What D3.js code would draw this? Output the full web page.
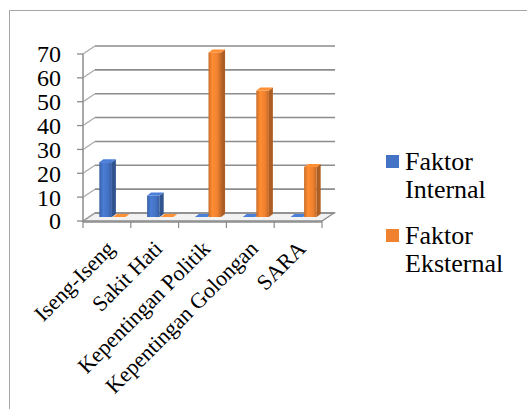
<!DOCTYPE html>
<html>
<head>
<meta charset="utf-8">
<script src="https://cdn.jsdelivr.net/npm/d3@7"></script>
<style>
  body { margin: 0; background: #fff; }
</style>
</head>
<body>
<div id="chart"></div>
<script>
// data
const categories = ["Iseng-Iseng", "Sakit Hati", "Kepentingan Politik", "Kepentingan Golongan", "SARA"];
const seriesNames = ["Faktor Internal", "Faktor Eksternal"];
const internalValues = [23, 9, 0, 0, 0];
const externalValues = [0, 0, 69, 53, 21];
const yTicks = [0, 10, 20, 30, 40, 50, 60, 70];
const colors = ["#4472C4", "#F0812F"];

const W = 527, H = 409;
const FONT = "'Liberation Serif', 'Times New Roman', serif";
const x0 = 83, x1 = 322;     // front edge of the plot
const dx = 12, dy = -8;      // depth of the back wall

const svg = d3.select("#chart").append("svg")
    .attr("width", W)
    .attr("height", H)
    .style("font-family", FONT);

// chart frame
svg.append("rect")
    .attr("x", 9.5).attr("y", 10.5)
    .attr("width", 700).attr("height", 600)
    .attr("fill", "none")
    .attr("stroke", "#a6a6a6");

const y = d3.scaleLinear().domain([0, 70]).range([221, 54]);
const x = d3.scaleBand().domain(categories).range([x0, x1]).paddingInner(0).paddingOuter(0);
const xs = d3.scaleBand().domain(seriesNames).range([0, x.bandwidth()]).paddingInner(0).paddingOuter(0.76);

// gradients
const defs = svg.append("defs");
colors.forEach((c, i) => {
    const g = defs.append("linearGradient").attr("id", "grad" + i)
        .attr("x1", "0%").attr("x2", "100%");
    const base = d3.color(c);
    g.append("stop").attr("offset", "0%").attr("stop-color", base.darker(0.5));
    g.append("stop").attr("offset", "30%").attr("stop-color", base.brighter(0.25));
    g.append("stop").attr("offset", "70%").attr("stop-color", base);
    g.append("stop").attr("offset", "100%").attr("stop-color", base.darker(0.6));
});

// floor
const y0 = y(0);
svg.append("path")
    .attr("d", `M${x0},${y0}L${x1},${y0}L${x1 + dx},${y0 + dy}L${x0 + dx},${y0 + dy}Z`)
    .attr("fill", "#f2f2f2")
    .attr("stroke", "#8c8c8c")
    .attr("stroke-width", 1.3);

// back wall grid + side wall lines
yTicks.forEach(v => {
    const yy = y(v);
    svg.append("line")
        .attr("x1", x0 + dx).attr("x2", x1 + dx + 1)
        .attr("y1", yy + dy).attr("y2", yy + dy)
        .attr("stroke", "#8c8c8c").attr("stroke-width", 1.6);
    svg.append("line")
        .attr("x1", x0).attr("x2", x0 + dx)
        .attr("y1", yy).attr("y2", yy + dy)
        .attr("stroke", "#a6a6a6").attr("stroke-width", 1.2);
});

// left (value) axis
svg.append("line")
    .attr("x1", x0).attr("x2", x0)
    .attr("y1", y(70)).attr("y2", y0)
    .attr("stroke", "#8c8c8c").attr("stroke-width", 1.5);
yTicks.forEach(v => {
    svg.append("line")
        .attr("x1", x0 - 6).attr("x2", x0)
        .attr("y1", y(v)).attr("y2", y(v))
        .attr("stroke", "#8c8c8c").attr("stroke-width", 1.3);
    svg.append("text")
        .attr("x", 61).attr("y", y(v))
        .attr("dy", "0.35em")
        .attr("text-anchor", "end")
        .attr("font-family", FONT)
        .attr("font-size", 24)
        .text(v);
});

// category ticks along the front of the floor
const bounds = categories.map(c => x(c)).concat([x1]);
bounds.forEach(b => {
    svg.append("line")
        .attr("x1", b).attr("x2", b)
        .attr("y1", y0).attr("y2", y0 + 7)
        .attr("stroke", "#8c8c8c").attr("stroke-width", 1.2);
});
svg.append("line")
    .attr("x1", x0).attr("x2", x1)
    .attr("y1", y0 + 1).attr("y2", y0 + 1)
    .attr("stroke", "#8c8c8c").attr("stroke-width", 1.5);

// bars, drawn at mid depth
const mx = dx / 2, my = dy / 2;
const bx = 4, by = -3;   // bar depth
const series = [internalValues, externalValues];
series.forEach((vals, si) => {
    const g = svg.append("g");
    categories.forEach((c, ci) => {
        const v = vals[ci];
        const left = x(c) + xs(seriesNames[si]) + mx;
        const w = xs.bandwidth() - 1;
        const top = y(v) + my;
        const bottom = y0 + my;
        const base = d3.color(colors[si]);
        // side face
        g.append("path")
            .attr("d", `M${left + w},${top}L${left + w + bx},${top + by}L${left + w + bx},${bottom + by}L${left + w},${bottom}Z`)
            .attr("fill", base.darker(0.9));
        // front face
        g.append("rect")
            .attr("x", left).attr("y", top)
            .attr("width", w).attr("height", bottom - top)
            .attr("fill", `url(#grad${si})`);
        // top face
        g.append("path")
            .attr("d", `M${left},${top}L${left + bx},${top + by}L${left + w + bx},${top + by}L${left + w},${top}Z`)
            .attr("fill", base.brighter(0.3));
    });
});

// category labels
categories.forEach(c => {
    const cx = x(c) + x.bandwidth() / 2;
    svg.append("text")
        .attr("transform", `translate(${cx + 9},${y0 + 29}) rotate(-45)`)
        .attr("text-anchor", "end")
        .attr("font-family", FONT)
        .attr("font-size", 22)
        .text(c);
});

// legend
const legendY = [155, 229];
seriesNames.forEach((name, i) => {
    const words = name.split(" ");
    svg.append("rect")
        .attr("x", 386).attr("y", legendY[i])
        .attr("width", 13).attr("height", 13)
        .attr("fill", colors[i]);
    const t = svg.append("text")
        .attr("x", 405).attr("y", legendY[i] + 15)
        .attr("font-family", FONT)
        .attr("font-size", 26);
    t.append("tspan").attr("x", 405).text(words[0]);
    t.append("tspan").attr("x", 405).attr("dy", 28).text(words[1]);
});
</script>
</body>
</html>
